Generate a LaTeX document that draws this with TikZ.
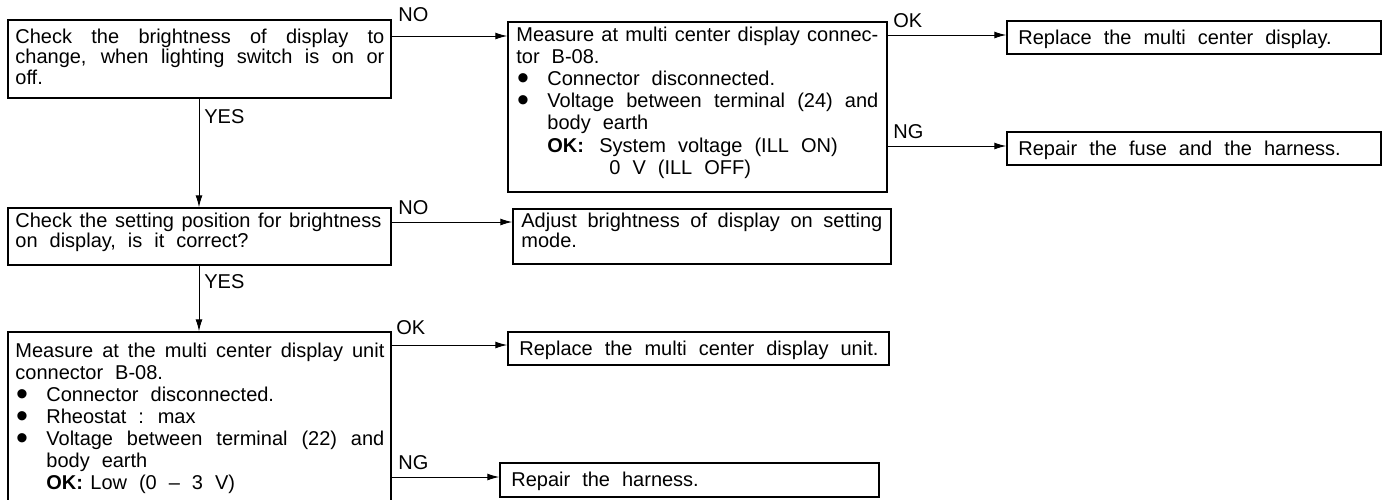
\documentclass[tikz,border=0pt]{standalone}
\usepackage{fontspec}
\setmainfont{Liberation Sans}
\usepackage{graphicx}
\usetikzlibrary{arrows.meta,fit}
\newcommand\fsz{\fontsize{10}{11}\selectfont\spaceskip=0.6em\relax}
\newcommand\J[2]{{\spaceskip=0.278em plus 1fil minus 0.05em\relax\makebox[#1][s]{#2}}}
\newcommand\blt{\makebox[15.5pt][l]{\hspace*{0.3pt}\smash{\raisebox{-0.2em}{\scalebox{1.7}{\textbullet}}}}}
\newcommand\ind{\hspace*{15.5pt}}
\newcommand\tb[3]{\parbox[t]{#1}{\fsz\fontsize{10}{#2}\selectfont #3}}
\begin{document}
\begin{tikzpicture}[x=0.5pt,y=-0.5pt,
  box/.style={draw, line width=0.75pt, inner sep=0pt},
  arr/.style={line width=0.5pt, -{Latex[length=6pt,width=3.5pt]}},
  txt/.style={anchor=base west, inner sep=0pt, font=\fsz},
  lab/.style={anchor=base west, inner sep=0pt, font=\fsz}]
\path[fill=white,use as bounding box] (0,0) rectangle (1388,499);

% boxes
\node[box, fit={(8,20) (391,98)}] (A) {};
\node[box, fit={(8,208) (391,265)}] (B) {};
\node[box, fit={(8,332) (391,502)}] (C) {};
\node[box, fit={(508,22) (887,192)}] (M) {};
\node[box, fit={(513,209) (891,264)}] (AD) {};
\node[box, fit={(1007,21) (1381,54)}] (R1) {};
\node[box, fit={(1007,132) (1381,165)}] (R2) {};
\node[box, fit={(508,332) (889,365)}] (R3) {};
\node[box, fit={(500,463) (879,497)}] (R4) {};

% texts
\node[txt] (tA) at (15,43) {\tb{184.5pt}{10.25pt}{\J{184.5pt}{Check the brightness of display to}\\
\J{184.5pt}{change, when lighting switch is on or}\\
off.}};
\node[txt] (tB) at (15,227) {\tb{183pt}{10pt}{\J{183pt}{Check the setting position for brightness}\\
on display, is it correct?}};
\node[txt] (tC) at (15,357) {\tb{184.5pt}{11pt}{\J{184.5pt}{Measure at the multi center display unit}\\
connector B-08.\\
\blt Connector disconnected.\\
\blt Rheostat : max\\
\blt\J{169pt}{Voltage between terminal (22) and}\\
\ind body earth\\
\ind\makebox[22pt][l]{\textbf{OK:}}Low (0 – 3 V)}};
\node[txt] (tM) at (516,41) {\tb{181pt}{11.1pt}{\J{181pt}{Measure at multi center display connec-}\\
tor B-08.\\
\blt Connector disconnected.\\
\blt\J{165.5pt}{Voltage between terminal (24) and}\\
\ind body earth\\
\ind\makebox[26pt][l]{\textbf{OK:}}System voltage (ILL ON)\\
\ind\hspace*{31pt}0 V (ILL OFF)}};
\node[txt] (tAD) at (521,227) {\tb{180.5pt}{10pt}{\J{180.5pt}{Adjust brightness of display on setting}\\
mode.}};
\node[txt] (tR1) at (1018,44) {Replace the multi center display.};
\node[txt] (tR2) at (1018,155) {Repair the fuse and the harness.};
\node[txt] (tR3) at (519,355) {Replace the multi center display unit.};
\node[txt] (tR4) at (511,486) {Repair the harness.};

% connectors
\draw[arr] (A.east |- 0,36) -- (M.west |- 0,36);
\draw[arr] (A.south -| 199,0) -- (B.north -| 199,0);
\draw[arr] (B.east |- 0,222) -- (AD.west |- 0,222);
\draw[arr] (B.south -| 199,0) -- (C.north -| 199,0);
\draw[arr] (C.east |- 0,345) -- (R3.west |- 0,345);
\draw[arr] (C.east |- 0,477) -- (R4.west |- 0,477);
\draw[arr] (M.east |- 0,35) -- (R1.west |- 0,35);
\draw[arr] (M.east |- 0,146) -- (R2.west |- 0,146);

% labels
\node[lab] (l1) at (398,21) {NO};
\node[lab] (l2) at (204,123) {YES};
\node[lab] (l3) at (398,214) {NO};
\node[lab] (l4) at (204,288) {YES};
\node[lab] (l5) at (396,334) {OK};
\node[lab] (l6) at (398,469) {NG};
\node[lab] (l7) at (893,27) {OK};
\node[lab] (l8) at (893,138) {NG};
\end{tikzpicture}
\end{document}
